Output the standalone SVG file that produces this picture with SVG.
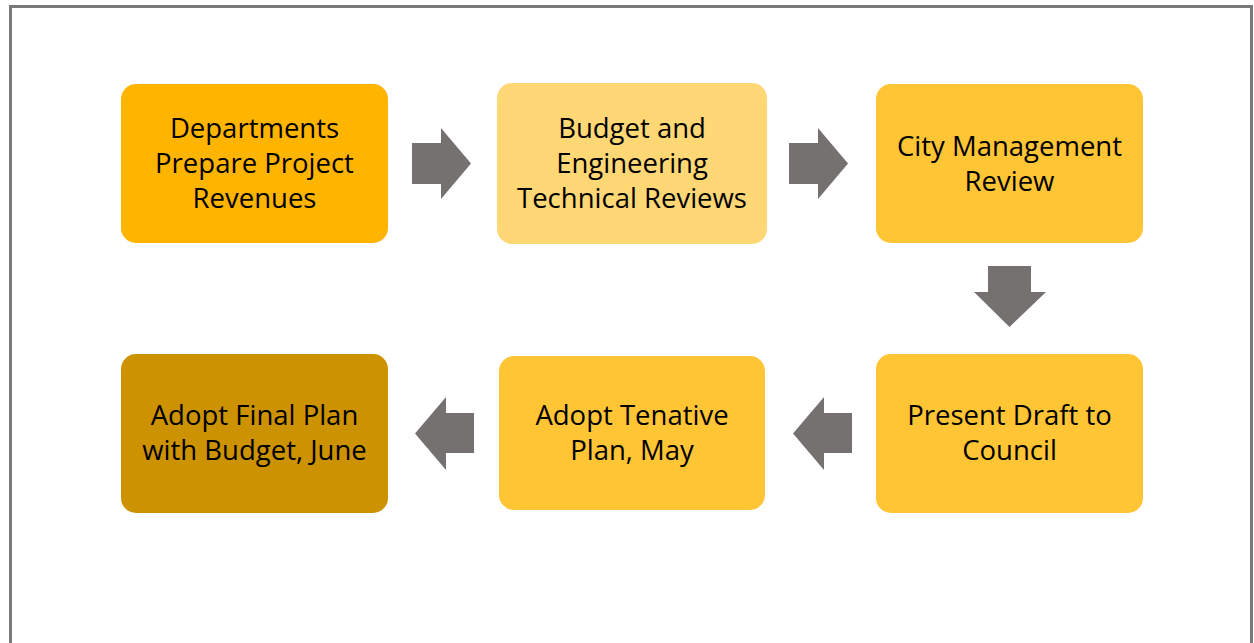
<svg xmlns="http://www.w3.org/2000/svg" width="1254" height="643" viewBox="0 0 1254 643">
  <style>
    .box text { font-family: "Open Sans", Lato, sans-serif; font-size: 27.5px; fill: #000; text-anchor: middle; }
    .arrow { fill: #767171; }
  </style>
  <rect x="0" y="0" width="1254" height="643" fill="#fff"/>
  <!-- frame -->
  <rect x="10.5" y="6.5" width="1241" height="660" fill="none" stroke="#7a7878" stroke-width="3"/>

  <g id="node-departments" class="box">
    <rect x="121" y="84" width="267" height="159" rx="15" fill="#FFB400"/>
    <text x="254.5" y="138">Departments</text>
    <text x="254.5" y="173">Prepare Project</text>
    <text x="254.5" y="208">Revenues</text>
  </g>
  <g id="node-budget" class="box">
    <rect x="497" y="83" width="270" height="161" rx="15" fill="#FFD775"/>
    <text x="632" y="138">Budget and</text>
    <text x="632" y="173">Engineering</text>
    <text x="632" y="208">Technical Reviews</text>
  </g>
  <g id="node-city" class="box">
    <rect x="876" y="84" width="267" height="159" rx="15" fill="#FFC535"/>
    <text x="1009.5" y="156">City Management</text>
    <text x="1009.5" y="191">Review</text>
  </g>
  <g id="node-present" class="box">
    <rect x="876" y="354" width="267" height="159" rx="15" fill="#FFC535"/>
    <text x="1009.5" y="425">Present Draft to</text>
    <text x="1009.5" y="460">Council</text>
  </g>
  <g id="node-tentative" class="box">
    <rect x="499" y="356" width="266" height="154" rx="15" fill="#FFC535"/>
    <text x="632" y="425">Adopt Tenative</text>
    <text x="632" y="460">Plan, May</text>
  </g>
  <g id="node-final" class="box">
    <rect x="121" y="354" width="267" height="159" rx="15" fill="#CC9200"/>
    <text x="254.5" y="425">Adopt Final Plan</text>
    <text x="254.5" y="460">with Budget, June</text>
  </g>

  <g id="connectors">
    <polygon class="arrow" points="412,143 441,143 441,128 471,163.5 441,199 441,184 412,184"/>
    <polygon class="arrow" points="789,143 818,143 818,128 848,163.5 818,199 818,184 789,184"/>
    <polygon class="arrow" points="988,266 1031,266 1031,292 1046,292 1009.5,327 974,292 988,292"/>
    <polygon class="arrow" points="474,413 446,413 446,397 415,433.5 446,470 446,453 474,453"/>
    <polygon class="arrow" points="852,413 824,413 824,397 793,433.5 824,470 824,453 852,453"/>
  </g>
</svg>
